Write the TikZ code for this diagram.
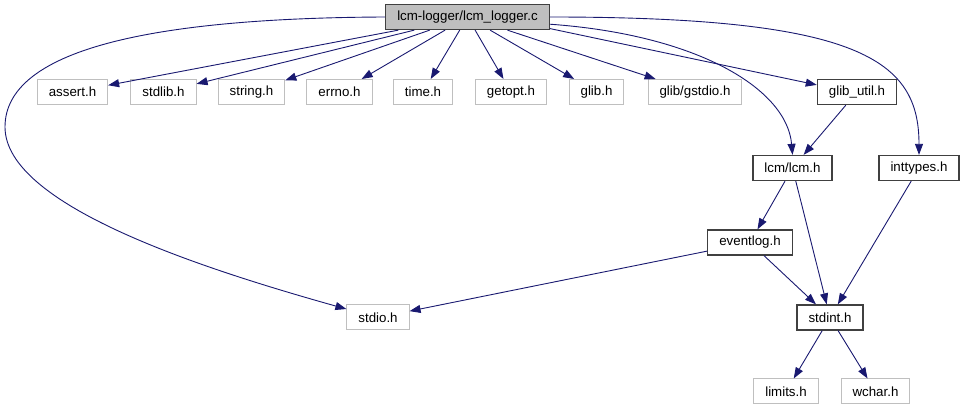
\documentclass[tikz,border=0pt]{standalone}
\usepackage{fontspec}
\setmainfont{Liberation Sans}
\usepackage{tikz}
\usetikzlibrary{arrows.meta, positioning}
\definecolor{edgecolor}{HTML}{191970}
\definecolor{boxgray}{HTML}{BFBFBF}

\begin{document}
\begin{tikzpicture}[
  x=1pt, y={(0pt,-1pt)},
  hdr/.style={rectangle, draw=boxgray, line width=1pt, fill=white,
              minimum height=25pt, inner xsep=11.5pt, inner ysep=0pt,
              font=\fontsize{13.3}{15}\selectfont},
  hdrdoc/.style={hdr, draw=black!75, line width=1.3pt},
  rootfile/.style={hdr, draw=black!75, line width=1.3pt, fill=boxgray},
  dep/.style={draw=edgecolor, line width=0.9pt, -{Triangle[length=11pt, width=8pt]}}
]
  \useasboundingbox (0,0) rectangle (964,411);

  \node[rootfile] (root) at (467.5,17) {lcm-logger/lcm\_logger.c};

  % system and library headers
  \node[hdr] (assert)   at (72.5,92)  {assert.h};
  \node[hdr] (stdlib)   at (163.5,92) {stdlib.h};
  \node[hdr] (string)   at (251.5,92) {string.h};
  \node[hdr] (errno)    at (339.5,92) {errno.h};
  \node[hdr] (timeh)    at (423,92)   {time.h};
  \node[hdr] (getopt)   at (511,92)   {getopt.h};
  \node[hdr] (glib)     at (596.5,92) {glib.h};
  \node[hdr] (gstdio)   at (695,92)   {glib/gstdio.h};
  \node[hdrdoc] (glibutil) at (857,92) {glib\_util.h};

  \node[hdrdoc] (lcm)      at (792.5,168) {lcm/lcm.h};
  \node[hdrdoc] (inttypes) at (919,168)   {inttypes.h};
  \node[hdrdoc] (eventlog) at (750,242.5) {eventlog.h};

  \node[hdr]    (stdio)  at (378,317.5) {stdio.h};
  \node[hdrdoc] (stdint) at (830,317.5) {stdint.h};

  \node[hdr] (limits) at (786,391.5)   {limits.h};
  \node[hdr] (wchar)  at (875.5,391.5) {wchar.h};

  \foreach \h in {assert, stdlib, string, errno, timeh, getopt, glib, gstdio}
    \draw[dep] (root) -- (\h);

  \draw[dep] (root.west) .. controls (150,18) and (5,50) .. (5,127)
                         .. controls (5,205) and (200,268) .. (stdio.165);
  \draw[dep] (root.-8) -- (glibutil.170);
  \draw[dep] (root.-5) .. controls (700,35) and (787,90) .. (lcm.north);
  \draw[dep] (root.east) .. controls (860,17) and (919,60) .. (inttypes.north);

  \draw[dep] (glibutil) -- (lcm);
  \draw[dep] (lcm) -- (eventlog);
  \draw[dep] (lcm) -- (stdint);
  \draw[dep] (inttypes) -- (stdint);
  \draw[dep] (eventlog) -- (stdint);
  \draw[dep] (eventlog) -- (stdio);
  \draw[dep] (stdint) -- (limits);
  \draw[dep] (stdint) -- (wchar);
\end{tikzpicture}
\end{document}
